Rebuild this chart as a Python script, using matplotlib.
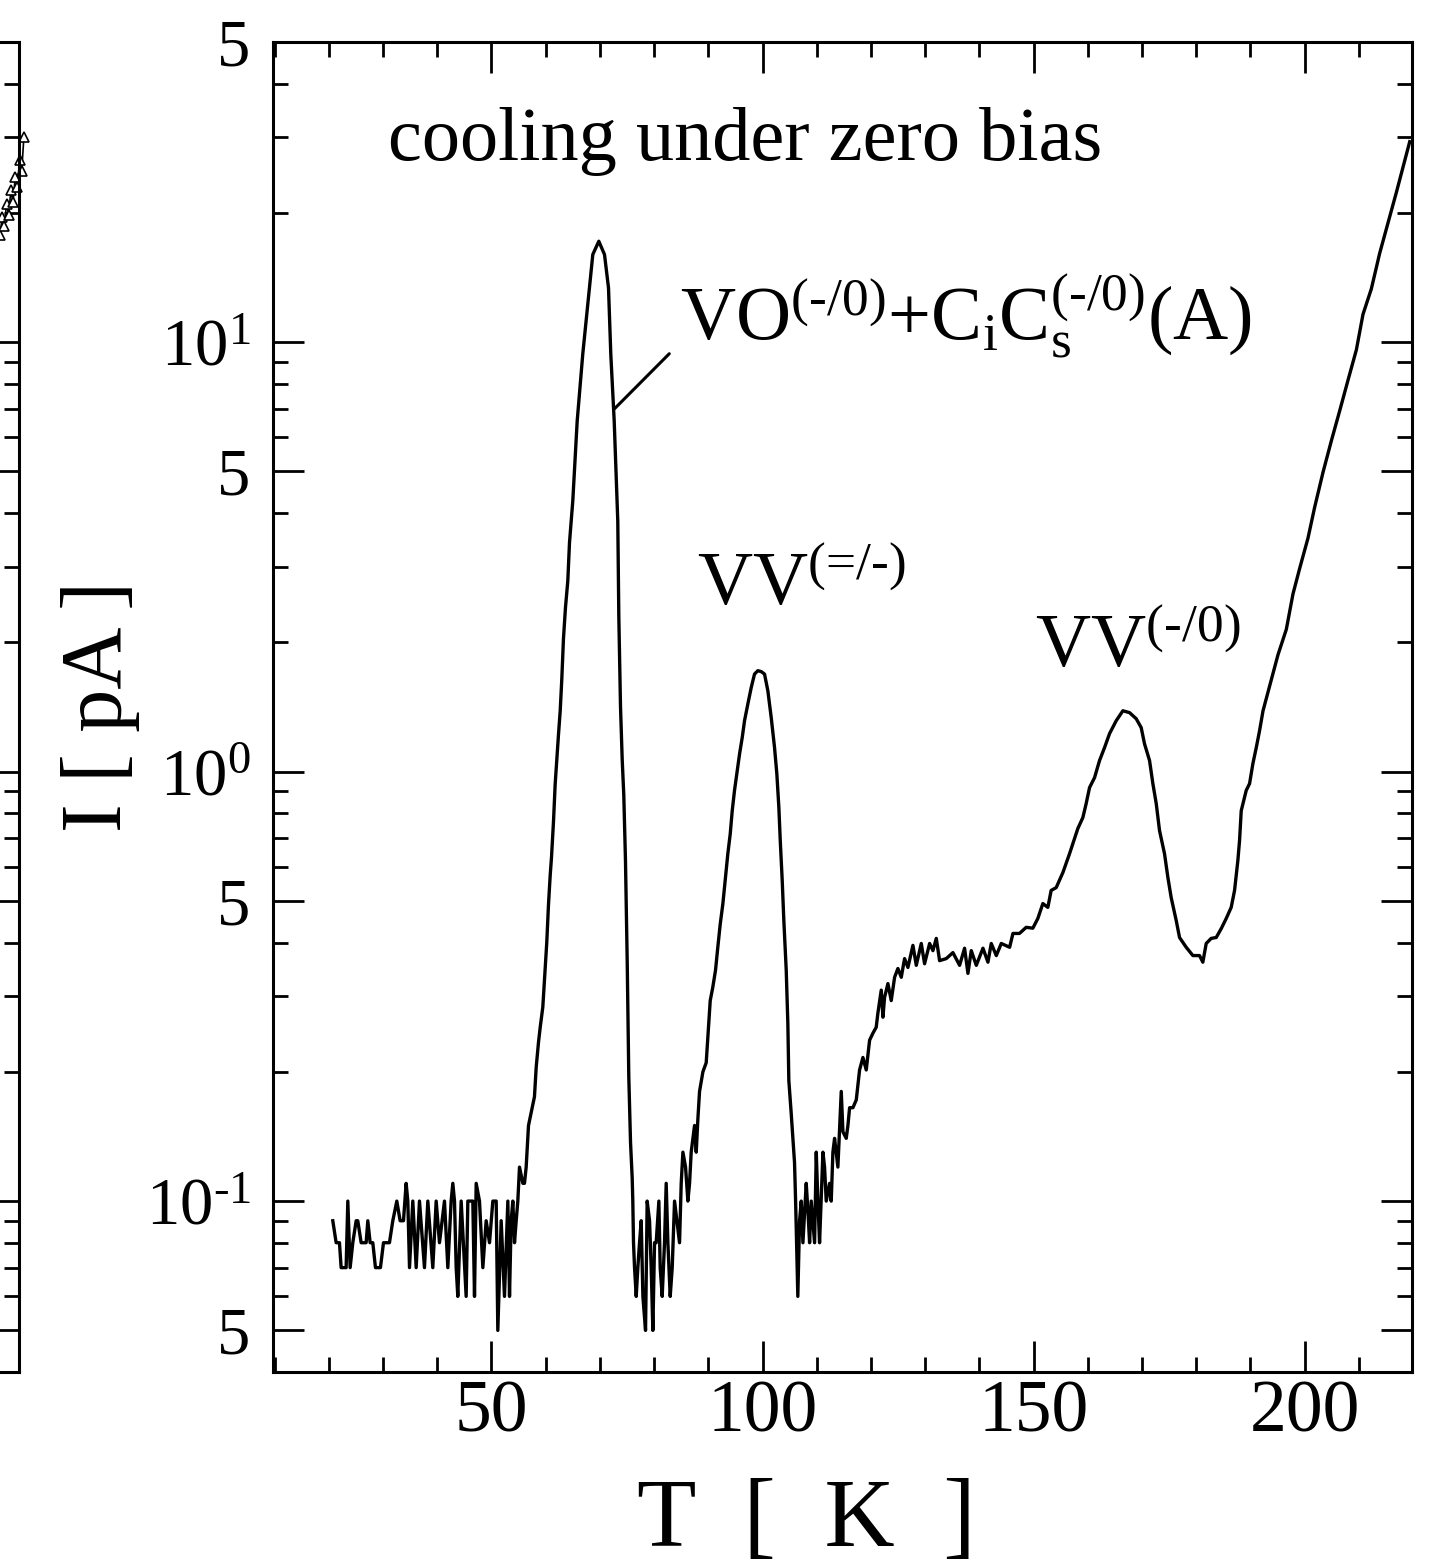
import matplotlib
matplotlib.use('Agg')
import matplotlib.pyplot as plt
from matplotlib.ticker import MultipleLocator, FixedLocator, NullFormatter, NullLocator

plt.rcParams['font.family'] = ['Liberation Serif', 'DejaVu Serif']
plt.rcParams['mathtext.fontset'] = 'custom'
plt.rcParams['mathtext.rm'] = 'Liberation Serif'
plt.rcParams['mathtext.it'] = 'Liberation Serif:italic'
plt.rcParams['mathtext.bf'] = 'Liberation Serif:bold'

# ---- data: temperature [K] and current [pA] ----
temp_k = [
    # noise floor before the first peak
    20.73, 21.35, 21.96, 22.27, 23.19, 23.50, 23.93, 24.42, 25.04, 25.34,
    25.96, 26.88, 27.19, 27.62, 28.11, 28.60, 29.52, 30.08, 31.18, 31.80,
    32.54, 33.15, 33.77, 34.26, 34.57, 34.88, 35.49, 36.11, 36.72, 37.64,
    38.26, 39.18, 39.80, 40.41, 41.33, 41.95, 42.56, 42.87, 43.18, 43.49,
    43.79, 44.41, 45.33, 45.64, 46.56, 46.87, 47.18, 47.79, 48.41, 49.02,
    49.64, 50.25, 50.87, 51.17, 51.79, 52.40, 53.02, 53.33, 53.63, 53.94,
    54.25, 54.56, 54.86, 55.17, 55.79, 56.09, 56.40,
    # VO + CiCs peak
    56.83, 57.93, 58.25, 58.67, 58.99, 59.47, 59.83, 60.20, 60.52, 60.83,
    61.07, 61.44, 61.75, 62.05, 62.36, 62.68, 62.97, 63.28, 63.65, 64.08,
    64.39, 65.00, 65.81, 66.84, 68.08, 68.69, 69.80, 70.85, 71.59, 72.01,
    72.64, 73.30, 73.49, 73.80, 74.11, 74.41, 74.72, 75.04, 75.33, 75.65,
    75.96, 76.07,
    # valley
    76.20, 76.39, 76.70, 77.00, 77.31, 77.62, 77.93, 78.42, 78.72, 79.16,
    79.46, 79.77, 80.08, 80.38, 80.88, 81.12, 81.49, 81.92, 82.23, 82.54,
    82.97, 83.34, 83.77, 84.20, 84.69, 85.00, 85.31, 85.80, 86.23, 86.54,
    86.84, 87.46, 87.77, 88.07, 88.38, 89.00, 89.61,
    # VV(=/-) peak
    90.35, 90.83, 91.33, 91.75, 92.20, 92.68, 93.17, 93.60, 94.04, 94.41,
    94.83, 95.33, 95.76, 96.26, 96.68, 97.29, 97.92, 98.52, 99.13, 99.75,
    100.37, 100.98, 101.60, 102.21, 102.64, 103.01, 103.27, 103.63, 103.93, 104.37,
    104.67, 104.85, 105.29, 105.90, 106.10, 106.51,
    # rise and plateau
    106.83, 107.14, 107.45, 108.06, 108.37, 108.68, 108.98, 109.60, 109.91, 110.21,
    110.52, 111.14, 111.44, 111.75, 112.37, 112.67, 112.98, 113.29, 113.90, 114.52,
    114.83, 115.44, 115.75, 116.06, 116.67, 117.29, 117.90, 118.52, 119.13, 119.75,
    120.36, 120.97, 121.28, 121.90, 122.21, 122.51, 123.13, 123.74, 124.36, 124.97,
    125.59, 126.20, 126.82, 127.74, 128.36, 129.28, 129.89, 130.82, 131.43, 132.05,
    132.66, 133.89, 135.12, 136.35, 137.27, 137.89, 138.50, 139.43, 140.66, 141.58,
    142.19, 143.12, 144.04, 145.58, 146.19,
    # VV(-/0) peak and final rise
    147.40, 148.63, 149.86, 150.78, 151.71, 152.63, 153.24, 154.17, 155.40, 156.63,
    157.24, 158.16, 159.09, 159.70, 160.32, 161.24, 162.16, 163.08, 164.01, 165.24,
    166.47, 167.70, 168.93, 169.85, 170.46, 171.39, 172.00, 172.62, 173.23, 174.15,
    174.77, 175.38, 176.31, 176.92, 178.15, 179.38, 180.61, 181.22, 181.84, 182.76,
    183.69, 184.61, 185.53, 186.45, 187.07, 187.68, 187.99, 188.30, 189.22, 189.84,
    190.45, 191.07, 191.68, 192.32, 193.85, 195.08, 196.62, 197.85, 199.08, 200.62,
    201.85, 203.39, 204.92, 206.46, 208.00, 209.54, 210.76, 212.30, 213.84, 215.38,
    216.92, 218.15, 219.38,
]

current_pa = [
    0.09, 0.08, 0.08, 0.07, 0.07, 0.10, 0.07, 0.08, 0.09, 0.09,
    0.08, 0.08, 0.09, 0.08, 0.08, 0.07, 0.07, 0.08, 0.08, 0.09,
    0.10, 0.09, 0.09, 0.11, 0.10, 0.07, 0.10, 0.07, 0.10, 0.07,
    0.10, 0.07, 0.10, 0.08, 0.10, 0.07, 0.10, 0.11, 0.10, 0.07,
    0.06, 0.10, 0.06, 0.10, 0.10, 0.06, 0.11, 0.10, 0.07, 0.09,
    0.08, 0.10, 0.10, 0.05, 0.09, 0.06, 0.10, 0.06, 0.09, 0.10,
    0.08, 0.09, 0.10, 0.12, 0.11, 0.11, 0.12,
    0.150, 0.175, 0.205, 0.234, 0.254, 0.283, 0.336, 0.400, 0.491, 0.573,
    0.631, 0.765, 0.935, 1.066, 1.219, 1.386, 1.64, 2.04, 2.41, 2.78,
    3.41, 4.27, 6.55, 9.38, 13.37, 16.0, 17.18, 16.0, 13.37, 9.38,
    6.55, 3.83, 2.30, 1.42, 1.07, 0.88, 0.62, 0.36, 0.195, 0.137,
    0.113, 0.100,
    0.08, 0.07, 0.06, 0.07, 0.08, 0.09, 0.06, 0.05, 0.10, 0.09,
    0.07, 0.05, 0.08, 0.08, 0.10, 0.07, 0.06, 0.08, 0.11, 0.08,
    0.06, 0.07, 0.10, 0.09, 0.08, 0.11, 0.13, 0.12, 0.10, 0.11,
    0.13, 0.15, 0.13, 0.155, 0.18, 0.20, 0.21,
    0.293, 0.315, 0.345, 0.390, 0.442, 0.492, 0.568, 0.644, 0.716, 0.811,
    0.904, 1.005, 1.099, 1.202, 1.314, 1.437, 1.571, 1.687, 1.718, 1.71,
    1.687, 1.543, 1.337, 1.139, 0.988, 0.826, 0.691, 0.558, 0.450, 0.345,
    0.259, 0.191, 0.160, 0.123, 0.100, 0.06,
    0.09, 0.10, 0.08, 0.11, 0.095, 0.08, 0.10, 0.08, 0.13, 0.10,
    0.08, 0.13, 0.12, 0.10, 0.11, 0.10, 0.13, 0.14, 0.12, 0.18,
    0.145, 0.14, 0.15, 0.165, 0.165, 0.172, 0.202, 0.216, 0.202, 0.237,
    0.246, 0.254, 0.274, 0.310, 0.268, 0.298, 0.321, 0.293, 0.332, 0.348,
    0.332, 0.367, 0.350, 0.394, 0.354, 0.398, 0.357, 0.398, 0.383, 0.409,
    0.363, 0.367, 0.379, 0.354, 0.388, 0.339, 0.383, 0.354, 0.388, 0.360,
    0.398, 0.373, 0.398, 0.390, 0.420,
    0.420, 0.434, 0.432, 0.455, 0.493, 0.483, 0.529, 0.537, 0.582, 0.644,
    0.680, 0.737, 0.782, 0.843, 0.918, 0.968, 1.061, 1.137, 1.226, 1.314,
    1.386, 1.372, 1.328, 1.266, 1.161, 1.061, 0.938, 0.843, 0.729, 0.644,
    0.567, 0.509, 0.450, 0.411, 0.390, 0.373, 0.373, 0.360, 0.398, 0.409,
    0.411, 0.431, 0.455, 0.483, 0.529, 0.621, 0.691, 0.811, 0.904, 0.938,
    1.044, 1.137, 1.245, 1.386, 1.637, 1.871, 2.145, 2.594, 2.973, 3.50,
    4.13, 4.98, 5.89, 6.92, 8.16, 9.60, 11.61, 13.31, 16.11, 18.97,
    22.33, 25.6, 29.3,
]

# neighbouring panel, only its right edge is visible
left_temp_k = [216.3, 216.7, 217.1, 217.5, 217.9, 218.3, 218.7, 219.1,
               219.5, 219.9, 220.3, 220.7]
left_current_pa = [17.8, 19.6, 18.6, 21.0, 19.8, 22.6, 21.2, 24.2,
                   23.0, 26.5, 25.0, 30.0]

y_major = [0.05, 0.1, 0.5, 1, 5, 10, 50]
y_major_labels = ['5', r'$10^{\text{-}1}$', '5', r'$10^{0}$', '5', r'$10^{1}$', '5']
y_minor = [0.06, 0.07, 0.08, 0.09, 0.2, 0.3, 0.4, 0.6, 0.7, 0.8, 0.9,
           2, 3, 4, 6, 7, 8, 9, 20, 30, 40]

peak_labels = [
    (r'VO$^{\text{(-/0)}}$+C$_{\mathrm{i}}$C$_{\mathrm{s}}^{\text{(-/0)}}$(A)', 0.357, 0.776),
    (r'VV$^{\text{(=/-)}}$', 0.372, 0.577),
    (r'VV$^{\text{(-/0)}}$', 0.669, 0.530),
]
leader_from = (72.7, 7.0)   # point on the VO peak
leader_to = (82.8, 9.4)

XLIM = (9.7, 219.8)
YLIM = (0.04, 50)
LW = 2.4


def style_axis(ax):
    for s in ax.spines.values():
        s.set_linewidth(2.2)
    ax.tick_params(which='both', direction='in', width=2.0, colors='black')
    ax.tick_params(which='major', length=22)
    ax.tick_params(which='minor', length=11)


fig = plt.figure(figsize=(14.35, 15.67), dpi=100)
ax_pos = [0.19024, 0.12444, 0.79373, 0.84876]

# partial panel on the far left
ax0 = fig.add_axes([0.01324 - ax_pos[2], ax_pos[1], ax_pos[2], ax_pos[3]])
ax0.plot(left_temp_k, left_current_pa, color='black', lw=1.2, marker='^',
         ms=7, mfc='white', mec='black', mew=1.2, clip_on=False)
ax0.set_yscale('log')
ax0.set_xlim(*XLIM)
ax0.set_ylim(*YLIM)
ax0.xaxis.set_major_locator(NullLocator())
ax0.xaxis.set_minor_locator(NullLocator())
ax0.yaxis.set_major_locator(FixedLocator(y_major))
ax0.yaxis.set_minor_locator(FixedLocator(y_minor))
ax0.yaxis.set_major_formatter(NullFormatter())
ax0.yaxis.set_minor_formatter(NullFormatter())
style_axis(ax0)
ax0.tick_params(which='both', left=False, right=True, labelleft=False)

# main panel
ax = fig.add_axes(ax_pos)
ax.plot(temp_k, current_pa, color='black', lw=LW)
ax.set_yscale('log')
ax.set_xlim(*XLIM)
ax.set_ylim(*YLIM)

ax.xaxis.set_major_locator(MultipleLocator(50))
ax.xaxis.set_minor_locator(MultipleLocator(10))
ax.yaxis.set_major_locator(FixedLocator(y_major))
ax.set_yticklabels(y_major_labels)
ax.yaxis.set_minor_locator(FixedLocator(y_minor))
ax.yaxis.set_minor_formatter(NullFormatter())
style_axis(ax)
ax.tick_params(which='both', top=True, right=True)
ax.tick_params(axis='x', which='major', labelsize=53, pad=6)
ax.tick_params(axis='y', which='major', labelsize=48, pad=16)

ax.set_xlabel('T  [  K  ]', fontsize=70)
ax.xaxis.set_label_coords(0.468, -0.08)
ax.set_ylabel('I [ pA ]', fontsize=62)
ax.yaxis.set_label_coords(-0.117, 0.5)

ax.text(0.101, 0.911, 'cooling under zero bias', transform=ax.transAxes,
        fontsize=55, va='baseline', ha='left')
for txt, xf, yf in peak_labels:
    ax.text(xf, yf, txt, transform=ax.transAxes, fontsize=55,
            va='baseline', ha='left')
ax.annotate('', xy=leader_from, xytext=leader_to,
            arrowprops=dict(arrowstyle='-', lw=2.2, color='black',
                            shrinkA=0, shrinkB=0))

fig.savefig('out.png', dpi=100)
